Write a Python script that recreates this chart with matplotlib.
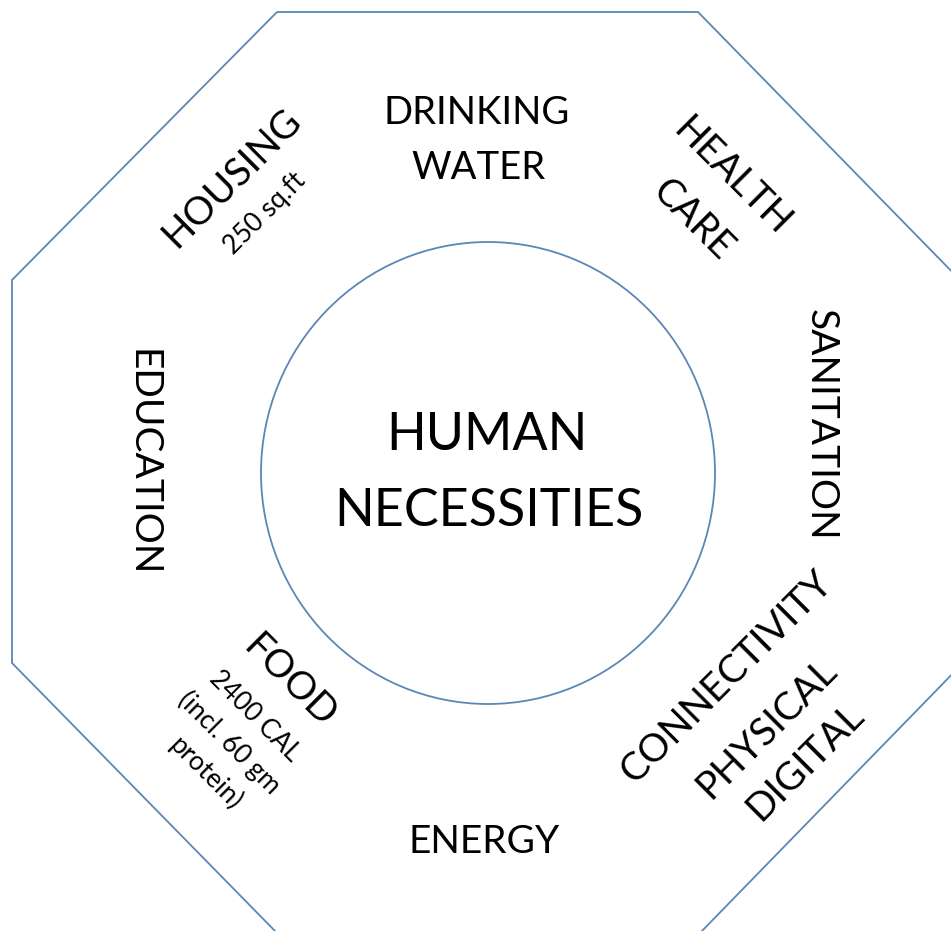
import matplotlib.pyplot as plt
from matplotlib.patches import Polygon, Ellipse

plt.rcParams['font.family'] = ['Lato', 'DejaVu Sans']

# text of the diagram, one entry per printed line
lines = ["HUMAN", "NECESSITIES",
         "DRINKING", "WATER",
         "HOUSING", "250 sq.ft",
         "HEALTH", "CARE",
         "EDUCATION",
         "SANITATION",
         "FOOD", "2400 CAL", "(incl. 60 gm", "protein)",
         "CONNECTIVITY", "PHYSICAL", "DIGITAL",
         "ENERGY"]

# layout (pixel centres, rotation, size) for each line above
pos = [(487, 436), (489, 511),
       (477, 113), (478, 168),
       (232, 178), (265, 213),
       (732, 177), (692, 220),
       (142, 463),
       (821, 425),
       (290, 682), (255, 716), (229, 743), (206, 773),
       (726, 677), (767, 728), (805, 762),
       (484, 842)]
rot = [0, 0, 0, 0, 45, 45, -45, -45, -90, -90,
       -45, -45, -45, -45, 45, 45, 45, 0]
size = [37.5, 37.5, 27.5, 27.5, 28, 19, 27.5, 27.5, 28, 28,
        28, 19, 19, 19, 28, 28, 28, 28]

edge = "#5b87b5"

fig = plt.figure(figsize=(9.51, 9.31), dpi=100)
ax = fig.add_axes([0, 0, 1, 1])
ax.set_xlim(0, 951)
ax.set_ylim(931, 0)
ax.axis("off")

octagon = [(277, 12), (698, 12), (963, 283), (963, 663),
           (700, 933), (277, 933), (12, 663), (12, 280)]
ax.add_patch(Polygon(octagon, closed=True, fill=False, edgecolor=edge, lw=1.3))
ax.add_patch(Ellipse((488, 473), 454, 462, fill=False, edgecolor=edge, lw=1.3))

for t, (x, y), r, s in zip(lines, pos, rot, size):
    ax.text(x, y, t, rotation=r, fontsize=s, ha="center", va="center",
            rotation_mode="anchor", color="black")

fig.savefig("out.png", dpi=100)
